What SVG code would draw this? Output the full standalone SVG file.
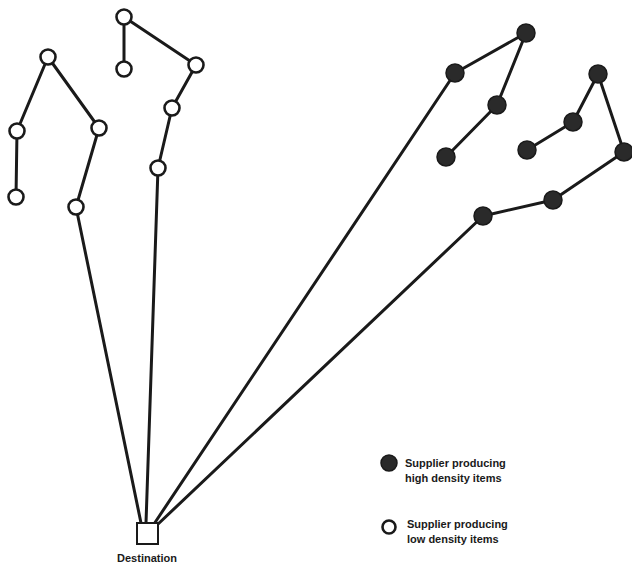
<svg xmlns="http://www.w3.org/2000/svg" width="632" height="568" viewBox="0 0 632 568">
  <style>
    .edge { stroke: #1a1a1a; stroke-width: 3; fill: none; stroke-linecap: round; }
    .low { fill: #ffffff; stroke: #1a1a1a; stroke-width: 2.6; }
    .high { fill: #2a2a2a; stroke: #1a1a1a; stroke-width: 1.5; }
    .label { font-family: "Liberation Sans", Arial, sans-serif; font-weight: bold; font-size: 11px; fill: #1a1a1a; }
  </style>
  <rect width="632" height="568" fill="#ffffff"/>

  <!-- routes -->
  <g id="connectors">
    <!-- low-density loop A -->
    <line class="edge" x1="48" y1="57" x2="17" y2="131"/>
    <line class="edge" x1="17" y1="131" x2="16" y2="197"/>
    <line class="edge" x1="48" y1="57" x2="99" y2="128"/>
    <line class="edge" x1="99" y1="128" x2="76" y2="207"/>
    <line class="edge" x1="76" y1="207" x2="141" y2="523"/>
    <!-- low-density loop B -->
    <line class="edge" x1="124" y1="17" x2="124" y2="69"/>
    <line class="edge" x1="124" y1="17" x2="196" y2="65"/>
    <line class="edge" x1="196" y1="65" x2="172" y2="108"/>
    <line class="edge" x1="172" y1="108" x2="158" y2="168"/>
    <line class="edge" x1="158" y1="168" x2="146" y2="523"/>
    <!-- high-density loop C -->
    <line class="edge" x1="455" y1="73" x2="526" y2="33"/>
    <line class="edge" x1="526" y1="33" x2="497" y2="105"/>
    <line class="edge" x1="497" y1="105" x2="446" y2="157"/>
    <line class="edge" x1="455" y1="73" x2="154" y2="524"/>
    <!-- high-density loop D -->
    <line class="edge" x1="527" y1="150" x2="573" y2="122"/>
    <line class="edge" x1="573" y1="122" x2="598" y2="74"/>
    <line class="edge" x1="598" y1="74" x2="624" y2="152"/>
    <line class="edge" x1="624" y1="152" x2="553" y2="200"/>
    <line class="edge" x1="553" y1="200" x2="483" y2="216"/>
    <line class="edge" x1="483" y1="216" x2="156" y2="526"/>
  </g>

  <g id="destination">
    <rect x="137" y="523" width="21" height="21" fill="#ffffff" stroke="#1a1a1a" stroke-width="2"/>
    <text class="label" x="147" y="562" text-anchor="middle">Destination</text>
  </g>

  <!-- low density suppliers -->
  <g id="low-1"><circle class="low" cx="48" cy="57" r="7.5"/></g>
  <g id="low-2"><circle class="low" cx="17" cy="131" r="7.5"/></g>
  <g id="low-3"><circle class="low" cx="16" cy="197" r="7.5"/></g>
  <g id="low-4"><circle class="low" cx="99" cy="128" r="7.5"/></g>
  <g id="low-5"><circle class="low" cx="76" cy="207" r="7.5"/></g>
  <g id="low-6"><circle class="low" cx="124" cy="17" r="7.5"/></g>
  <g id="low-7"><circle class="low" cx="124" cy="69" r="7.5"/></g>
  <g id="low-8"><circle class="low" cx="196" cy="65" r="7.5"/></g>
  <g id="low-9"><circle class="low" cx="172" cy="108" r="7.5"/></g>
  <g id="low-10"><circle class="low" cx="158" cy="168" r="7.5"/></g>

  <!-- high density suppliers -->
  <g id="high-1"><circle class="high" cx="526" cy="33" r="9"/></g>
  <g id="high-2"><circle class="high" cx="455" cy="73" r="9"/></g>
  <g id="high-3"><circle class="high" cx="497" cy="105" r="9"/></g>
  <g id="high-4"><circle class="high" cx="446" cy="157" r="9"/></g>
  <g id="high-5"><circle class="high" cx="598" cy="74" r="9"/></g>
  <g id="high-6"><circle class="high" cx="573" cy="122" r="9"/></g>
  <g id="high-7"><circle class="high" cx="527" cy="150" r="9"/></g>
  <g id="high-8"><circle class="high" cx="624" cy="152" r="9"/></g>
  <g id="high-9"><circle class="high" cx="553" cy="200" r="9"/></g>
  <g id="high-10"><circle class="high" cx="483" cy="216" r="9"/></g>

  <!-- legend -->
  <g id="legend">
    <circle class="high" cx="389" cy="463" r="8"/>
    <text class="label" x="405" y="467">Supplier producing</text>
    <text class="label" x="405" y="482">high density items</text>
    <circle class="low" cx="389" cy="527" r="6.5" stroke-width="3"/>
    <text class="label" x="407" y="528">Supplier producing</text>
    <text class="label" x="407" y="543">low density items</text>
  </g>
</svg>
